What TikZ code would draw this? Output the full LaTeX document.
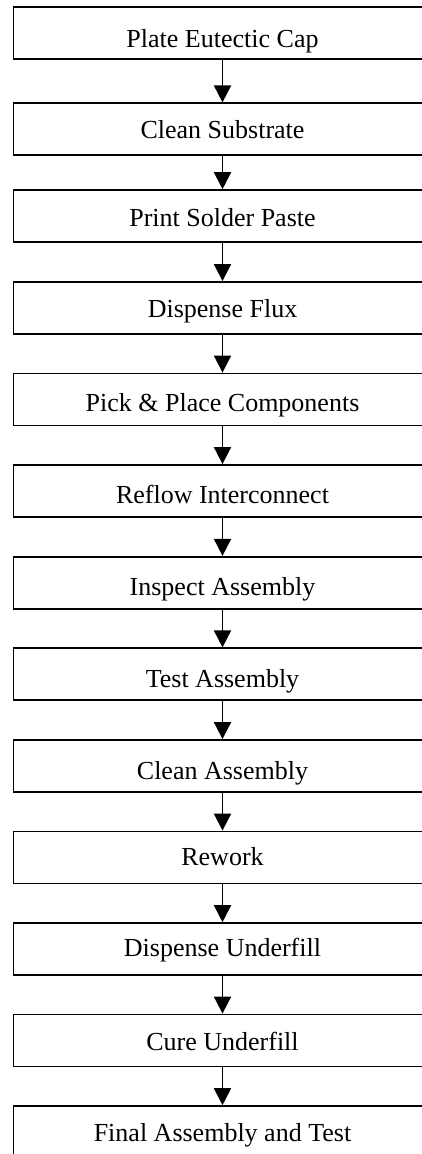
\documentclass[tikz,border=0pt]{standalone}
\usepackage{fontspec}
\setmainfont{Liberation Serif}
\usetikzlibrary{arrows.meta}
\begin{document}
\begin{tikzpicture}[x=1pt,y=-1pt,
  box/.style={draw, line width=1.6pt, rectangle, minimum width=418pt,
    minimum height=52pt, inner sep=0pt, text height=30pt,
    font=\fontsize{26}{30}\selectfont},
  arr/.style={-{Triangle[width=17pt,length=17pt]}, line width=1.8pt}]
\clip (0,0) rectangle (422,1154);
\node[box, text depth=0.8pt]  (b1)  at (222.5,33.1)   {Plate Eutectic Cap};
\node[box, text depth=12.4pt] (b2)  at (222.5,129.2)  {Clean Substrate};
\node[box, text depth=10pt]   (b3)  at (222.5,216)    {Print Solder Paste};
\node[box, text depth=10.4pt] (b4)  at (222.5,307.9)  {Dispense Flux};
\node[box, text depth=6.8pt]  (b5)  at (222.5,399.4)  {Pick \& Place Components};
\node[box, text depth=5.2pt]  (b6)  at (222.5,490.9)  {Reflow Interconnect};
\node[box, text depth=4pt]    (b7)  at (222.5,582.7)  {Inspect Assembly};
\node[box, text depth=3.8pt]  (b8)  at (222.5,674.2)  {Test Assembly};
\node[box, text depth=3.8pt]  (b9)  at (222.5,765.9)  {Clean Assembly};
\node[box, text depth=14.8pt] (b10) at (222.5,857.4)  {Rework};
\node[box, text depth=14.6pt] (b11) at (222.5,949)    {Dispense Underfill};
\node[box, text depth=10.8pt] (b12) at (222.5,1040.4) {Cure Underfill};
\node[box, text depth=10.6pt] (b13) at (222.5,1132)   {Final Assembly and Test};
\foreach \a/\b in {b1/b2,b2/b3,b3/b4,b4/b5,b5/b6,b6/b7,b7/b8,b8/b9,b9/b10,b10/b11,b11/b12,b12/b13}
  \draw[arr] (\a.south) -- (\b.north);
\end{tikzpicture}
\end{document}
